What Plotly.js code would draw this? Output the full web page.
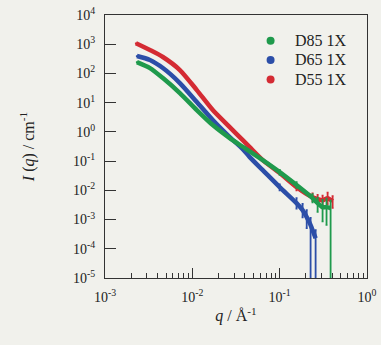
<!DOCTYPE html>
<html>
<head>
<meta charset="utf-8">
<script src="https://cdn.plot.ly/plotly-3.0.1.min.js"></script>
<style>html,body{margin:0;padding:0;background:#f1f1ec;}#chart{width:381px;height:345px;}</style>
</head>
<body>
<div id="chart"></div>
<script>
// Series names
const seriesNames = ["D85 1X", "D65 1X", "D55 1X"];

// D85 1X (green)
const qD85 = [0.00232, 0.00327, 0.00460, 0.00720, 0.01125, 0.01714, 0.0268, 0.0378, 0.0640, 0.100, 0.156, 0.238, 0.272, 0.310, 0.344, 0.383];
const iD85 = [245, 153, 69.5, 21.3, 5.58, 1.71, 0.614, 0.31, 0.108, 0.042, 0.0151, 0.0054, 0.00365, 0.00266, 0.00266, 0.00245];
const ePlusD85 = [0, 0, 0, 0, 0, 0, 0, 0, 0, 0.008, 0.004, 0.002, 0.002, 0.002, 0.0025, 0.002];
const eMinusD85 = [0, 0, 0, 0, 0, 0, 0, 0, 0, 0.008, 0.003, 0.0015, 0.0018, 0.0018, 0.002, 0.00245];

// D65 1X (blue)
const qD65 = [0.00232, 0.00327, 0.00460, 0.00720, 0.01125, 0.01714, 0.0268, 0.0378, 0.0454, 0.0640, 0.100, 0.156, 0.183, 0.204, 0.226, 0.258];
const iD65 = [394, 288, 153, 46.9, 10.5, 2.54, 0.664, 0.258, 0.137, 0.049, 0.0129, 0.00365, 0.0021, 0.00121, 0.00065, 0.00023];
const ePlusD65 = [0, 0, 0, 0, 0, 0, 0, 0, 0, 0, 0.003, 0.0018, 0.0013, 0.0009, 0.0005, 0.0002];
const eMinusD65 = [0, 0, 0, 0, 0, 0, 0, 0, 0, 0, 0.003, 0.0013, 0.0009, 0.0007, 0.00065, 0.00023];

// D55 1X (red)
const qD55 = [0.00226, 0.00327, 0.00460, 0.00720, 0.01125, 0.01714, 0.0268, 0.0378, 0.0454, 0.0640, 0.100, 0.156, 0.238, 0.272, 0.310, 0.354, 0.404];
const iD55 = [1075, 632, 365, 131, 27, 5.6, 1.46, 0.52, 0.30, 0.108, 0.039, 0.0129, 0.0058, 0.0050, 0.0046, 0.0054, 0.0043];
const ePlusD55 = [0, 0, 0, 0, 0, 0, 0, 0, 0, 0, 0, 0.003, 0.002, 0.002, 0.002, 0.003, 0.002];
const eMinusD55 = [0, 0, 0, 0, 0, 0, 0, 0, 0, 0, 0, 0.003, 0.0015, 0.0015, 0.0015, 0.002, 0.0018];

// Tick labels
const xTickVals = [0.001, 0.01, 0.1, 1];
const xTickText = ["10<sup>-3</sup>", "10<sup>-2</sup>", "10<sup>-1</sup>", "10<sup>0</sup>"];
const yTickVals = [1e-5, 1e-4, 1e-3, 1e-2, 1e-1, 1, 10, 100, 1000, 10000];
const yTickText = ["10<sup>-5</sup>", "10<sup>-4</sup>", "10<sup>-3</sup>", "10<sup>-2</sup>", "10<sup>-1</sup>",
                   "10<sup>0</sup>", "10<sup>1</sup>", "10<sup>2</sup>", "10<sup>3</sup>", "10<sup>4</sup>"];

const colGreen = "#1f9a4c", colBlue = "#2c4ea8", colRed = "#d42b33";

function trace(name, q, I, ep, em, color) {
  return {
    type: "scatter", mode: "lines", name: name, x: q, y: I,
    line: {color: color, width: 4.5, shape: "spline", smoothing: 0.7},
    error_y: {type: "data", symmetric: false, array: ep, arrayminus: em,
              color: color, thickness: 1.8, width: 1},
    showlegend: false, cliponaxis: true
  };
}

const data = [
  trace(seriesNames[1], qD65, iD65, ePlusD65, eMinusD65, colBlue),
  trace(seriesNames[2], qD55, iD55, ePlusD55, eMinusD55, colRed),
  trace(seriesNames[0], qD85, iD85, ePlusD85, eMinusD85, colGreen)
];

const serif = "Liberation Serif, Times New Roman, serif";
const legendY = [0.902, 0.829, 0.755];
const legendCols = [colGreen, colBlue, colRed];

const shapes = legendCols.map((c, k) => ({
  type: "circle", xref: "paper", yref: "paper", xsizemode: "pixel", ysizemode: "pixel",
  xanchor: 0.632, yanchor: legendY[k], x0: -4, x1: 4, y0: -4, y1: 4,
  fillcolor: c, line: {width: 0}
}));
const annotations = seriesNames.map((s, k) => ({
  xref: "paper", yref: "paper", x: 0.719, y: legendY[k], xanchor: "left", yanchor: "middle",
  text: s, showarrow: false, font: {family: serif, size: 16, color: "#222"}
}));

const layout = {
  width: 381, height: 345,
  margin: {l: 105, r: 14, t: 15, b: 67},
  paper_bgcolor: "#f1f1ec", plot_bgcolor: "#f1f1ec",
  showlegend: false,
  font: {family: serif, color: "#222"},
  xaxis: {
    type: "log", range: [-3, 0], tickmode: "array", tickvals: xTickVals, ticktext: xTickText,
    ticks: "inside", ticklen: 10, tickwidth: 1, tickcolor: "#333",
    minor: {ticks: "inside", ticklen: 5, tickwidth: 1, tickcolor: "#333", dtick: "D1", showgrid: false},
    showline: true, linecolor: "#333", linewidth: 1, mirror: true,
    showgrid: false, zeroline: false,
    tickfont: {family: serif, size: 14, color: "#222"}, ticklabelstandoff: 6,
    title: {text: "<i>q</i> / Å<sup>-1</sup>", font: {family: serif, size: 16, color: "#222"}, standoff: 6}
  },
  yaxis: {
    type: "log", range: [-5, 4], tickmode: "array", tickvals: yTickVals, ticktext: yTickText,
    ticks: "inside", ticklen: 11, tickwidth: 1, tickcolor: "#333",
    showline: true, linecolor: "#333", linewidth: 1, mirror: true,
    showgrid: false, zeroline: false,
    tickfont: {family: serif, size: 14, color: "#222"}, ticklabelstandoff: 6,
    title: {text: "<i>I</i> (<i>q</i>) / cm<sup>-1</sup>", font: {family: serif, size: 16, color: "#222"}, standoff: 34}
  },
  shapes: shapes,
  annotations: annotations
};

Plotly.newPlot("chart", data, layout, {displayModeBar: false, staticPlot: true});
</script>
</body>
</html>
